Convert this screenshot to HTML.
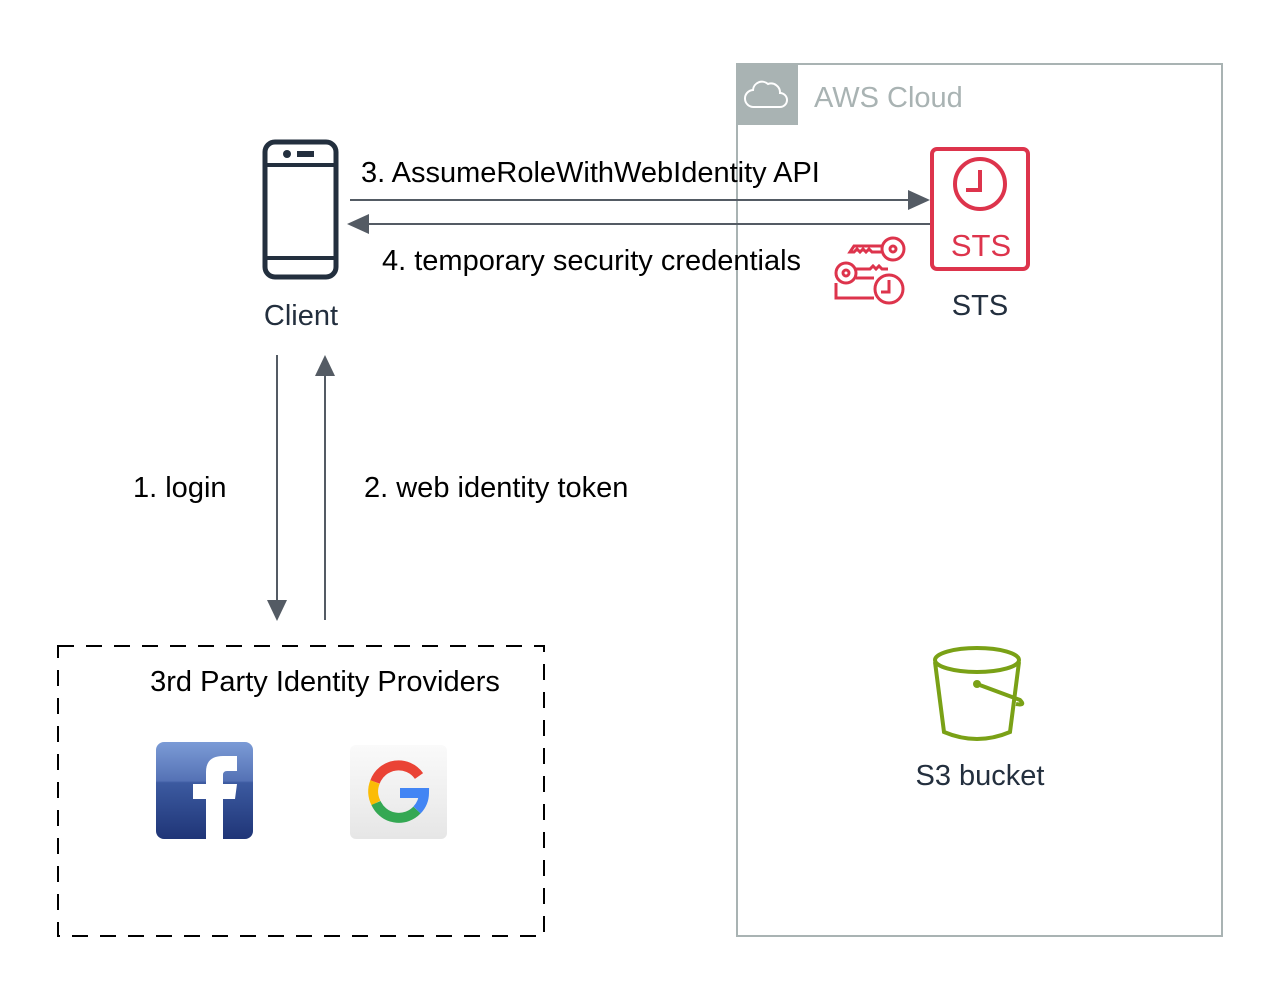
<!DOCTYPE html>
<html><head><meta charset="utf-8"><style>
html,body{margin:0;padding:0;background:#fff;}
svg{display:block;}
text{font-family:"Liberation Sans",Arial,sans-serif;}
</style></head><body>
<svg width="1280" height="986" viewBox="0 0 1280 986" xmlns="http://www.w3.org/2000/svg">
<defs>
<linearGradient id="fb" x1="0" y1="0" x2="0" y2="1"><stop offset="0" stop-color="#7b9bd6"/><stop offset="0.4" stop-color="#5572b5"/><stop offset="0.42" stop-color="#3c5aa0"/><stop offset="1" stop-color="#1f3577"/></linearGradient>
<linearGradient id="gg" x1="0" y1="0" x2="0" y2="1"><stop offset="0" stop-color="#fafafa"/><stop offset="1" stop-color="#e6e6e6"/></linearGradient>
</defs>
<rect x="737" y="64" width="485" height="872" fill="none" stroke="#a9b3b3" stroke-width="2"/>
<rect x="737" y="64" width="61" height="61" fill="#a9b3b3"/>
<path d="M754 107 h26 a7 7 0 0 0 0-14 a9 9 0 0 0 -12-9 a9 9 0 0 0 -15 6 a8 8 0 0 0 1 17z" fill="none" stroke="#fff" stroke-width="2"/>
<text x="814" y="107" font-size="29" fill="#a9b3b3">AWS Cloud</text>
<rect x="265" y="142" width="71" height="135" rx="10" fill="none" stroke="#232f3e" stroke-width="5"/>
<line x1="265" y1="165" x2="336" y2="165" stroke="#232f3e" stroke-width="4"/>
<line x1="265" y1="258" x2="336" y2="258" stroke="#232f3e" stroke-width="4"/>
<circle cx="287" cy="154" r="4" fill="#232f3e"/>
<rect x="297" y="151" width="17" height="6" fill="#232f3e"/>
<text x="301" y="325" font-size="29" fill="#232f3e" text-anchor="middle">Client</text>
<line x1="350" y1="200" x2="912" y2="200" stroke="#545b64" stroke-width="2"/>
<polygon points="930,200 908,190 908,210" fill="#545b64"/>
<line x1="930" y1="224" x2="366" y2="224" stroke="#545b64" stroke-width="2"/>
<polygon points="347,224 369,214 369,234" fill="#545b64"/>
<text x="361" y="182" font-size="29" fill="#000">3. AssumeRoleWithWebIdentity API</text>
<text x="382" y="270" font-size="29" fill="#000">4. temporary security credentials</text>
<rect x="932" y="149" width="96" height="120" rx="5" fill="none" stroke="#dd344c" stroke-width="4"/>
<circle cx="980" cy="184" r="25" fill="none" stroke="#dd344c" stroke-width="4"/>
<polyline points="980,170 980,190 966,190" fill="none" stroke="#dd344c" stroke-width="4"/>
<text x="981" y="256" font-size="31" fill="#dd344c" text-anchor="middle">STS</text>
<text x="980" y="315" font-size="29" fill="#232f3e" text-anchor="middle">STS</text>
<g fill="none" stroke="#dd344c" stroke-width="3">
<circle cx="893" cy="249" r="11"/><circle cx="893" cy="249" r="3"/>
<path d="M882 246 h-28 l-4 6 h4 l3-3 3 3 3-3 3 3 3-3 3 3 h11"/>
<circle cx="846" cy="273" r="10"/><circle cx="846" cy="273" r="3"/>
<path d="M856 269 h14 l3-3 3 3 3-3 3 3 h6 M856 278 h18"/>
<circle cx="889" cy="289" r="14"/>
<polyline points="889,280 889,292 881,292"/>
<path d="M836 283 v15 h38"/>
</g>
<line x1="277" y1="355" x2="277" y2="603" stroke="#545b64" stroke-width="2"/>
<polygon points="277,621 267,600 287,600" fill="#545b64"/>
<line x1="325" y1="620" x2="325" y2="374" stroke="#545b64" stroke-width="2"/>
<polygon points="325,355 315,376 335,376" fill="#545b64"/>
<text x="133" y="497" font-size="29" fill="#000">1. login</text>
<text x="364" y="497" font-size="29" fill="#000">2. web identity token</text>
<rect x="58" y="646" width="486" height="290" fill="none" stroke="#000" stroke-width="2" stroke-dasharray="16,12"/>
<text x="325" y="691" font-size="29" fill="#000" text-anchor="middle">3rd Party Identity Providers</text>
<rect x="156" y="742" width="97" height="97" rx="8" fill="url(#fb)"/>
<path d="M206 839 v-40 h-13 v-15 h13 v-12 q0-16 17-16 h14 v15 h-10 q-4 0-4 4 v9 h14 l-2 15 h-12 v40z" fill="#fff"/>
<rect x="350" y="745" width="97" height="94" rx="6" fill="url(#gg)"/>
<g fill="none" stroke-width="10">
<path d="M419 776 A25 25 0 0 0 375 782" stroke="#ea4335"/>
<path d="M375 782 A25 25 0 0 0 376 803" stroke="#fbbc05"/>
<path d="M376 803 A25 25 0 0 0 417 810" stroke="#34a853"/>
<path d="M417 810 A25 25 0 0 0 424 793 H400" stroke="#4285f4"/>
</g>
<g fill="none" stroke="#7aa116" stroke-width="4">
<ellipse cx="977" cy="660" rx="42" ry="12"/>
<path d="M935 662 L944 732 Q977 746 1010 732 L1019 662"/>
<path d="M977 684 L1020 700 Q1026 706 1016 704"/>
</g>
<circle cx="977" cy="684" r="4" fill="#7aa116"/>
<text x="980" y="785" font-size="29" fill="#232f3e" text-anchor="middle">S3 bucket</text>
</svg>
</body></html>
